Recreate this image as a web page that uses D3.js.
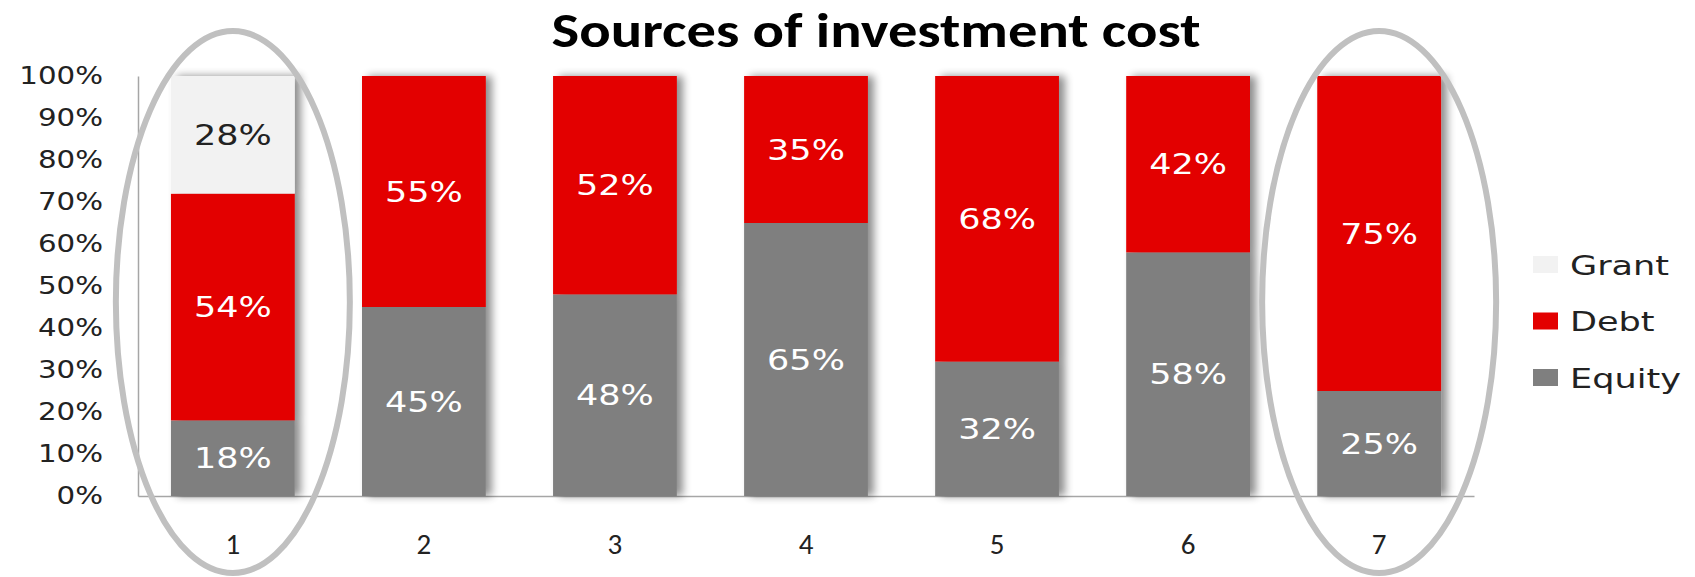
<!DOCTYPE html>
<html>
<head>
<meta charset="utf-8">
<script src="https://cdn.jsdelivr.net/npm/d3@7"></script>
<style>
  body { margin: 0; background: #fff; }
  svg { display: block; }
</style>
</head>
<body>
<svg id="chart" width="1695" height="577"></svg>
<script>
// data
var projects = ["1", "2", "3", "4", "5", "6", "7"];
var equity = [18, 45, 48, 65, 32, 58, 25];
var debt   = [54, 55, 52, 35, 68, 42, 75];
var grant  = [28, 0, 0, 0, 0, 0, 0];
var seriesNames = ["Equity", "Debt", "Grant"];
var yTicks = [0, 10, 20, 30, 40, 50, 60, 70, 80, 90, 100];
var circled = ["1", "7"];

var svg = d3.select("#chart"),
    margin = {top: 76, left: 138, right: 221, bottom: 81},
    width = +svg.attr("width") - margin.left - margin.right,
    height = +svg.attr("height") - margin.top - margin.bottom;

var colours = {Equity: "#7f7f7f", Debt: "#e30000", Grant: "#f2f2f2"};
var labelColours = {Equity: "#fff", Debt: "#fff", Grant: "#222"};
var labelFont = "'DejaVu Sans', Verdana, sans-serif";

// soft shadow to the right of each bar
var defs = svg.append("defs");
var f = defs.append("filter").attr("id", "shadow")
    .attr("x", "-10%").attr("y", "-5%").attr("width", "140%").attr("height", "110%");
f.append("feGaussianBlur").attr("in", "SourceAlpha").attr("stdDeviation", 4).attr("result", "b");
f.append("feOffset").attr("in", "b").attr("dx", 6).attr("dy", 0).attr("result", "o");
f.append("feComponentTransfer").attr("in", "o").attr("result", "s")
  .append("feFuncA").attr("type", "linear").attr("slope", 0.45);
var m = f.append("feMerge");
m.append("feMergeNode").attr("in", "s");
m.append("feMergeNode").attr("in", "SourceGraphic");

var g = svg.append("g").attr("transform", "translate(" + margin.left + "," + margin.top + ")");

var x = d3.scaleBand().domain(projects).range([0, width]).paddingInner(0.352).paddingOuter(0.1725);
var y = d3.scaleLinear().domain([0, 100]).range([height, 0]);

var rows = projects.map(function(p, i) {
  return {project: p, Equity: equity[i], Debt: debt[i], Grant: grant[i]};
});
var stacked = d3.stack().keys(seriesNames)(rows);

// title
svg.append("text")
    .attr("x", 876).attr("y", 47)
    .attr("text-anchor", "middle")
    .style("font-family", "Carlito, 'Open Sans', sans-serif")
    .style("font-weight", "bold")
    .style("font-size", "48px")
    .attr("textLength", 649)
    .attr("lengthAdjust", "spacingAndGlyphs")
    .text("Sources of investment cost");

// y axis
var yAxis = g.append("g")
    .call(d3.axisLeft(y).tickValues(yTicks).tickSize(0)
      .tickFormat(function(d) { return d + "%"; }));
yAxis.select(".domain").attr("stroke", "#a6a6a6").attr("stroke-width", 1.5);
yAxis.selectAll(".tick text")
    .style("font-family", labelFont)
    .style("font-size", "24px")
    .attr("fill", "#222")
    .attr("transform", "scale(1.22,1)")
    .attr("x", -35 / 1.22);

// x axis
var xAxis = g.append("g")
    .attr("transform", "translate(0," + height + ")")
    .call(d3.axisBottom(x).tickSize(0).tickPadding(37));
xAxis.select(".domain").attr("stroke", "#a6a6a6").attr("stroke-width", 1.5);
xAxis.selectAll(".tick text")
    .style("font-family", "Carlito, 'Liberation Sans', sans-serif")
    .style("font-size", "29px")
    .attr("fill", "#222");

// bars
var bars = g.append("g").attr("filter", "url(#shadow)");
bars.selectAll("g.series")
    .data(stacked)
  .enter().append("g")
    .attr("class", "series")
    .attr("fill", function(d) { return colours[d.key]; })
  .selectAll("rect")
    .data(function(d) { return d; })
  .enter().append("rect")
    .attr("x", function(d) { return x(d.data.project); })
    .attr("width", x.bandwidth())
    .attr("y", function(d) { return y(d[1]); })
    .attr("height", function(d) { return y(d[0]) - y(d[1]); });

// value labels
stacked.forEach(function(s) {
  g.append("g").selectAll("text")
      .data(s.filter(function(d) { return d[1] - d[0] > 0; }))
    .enter().append("text")
      .attr("transform", function(d) {
        return "translate(" + (x(d.data.project) + x.bandwidth() / 2) + "," + y((d[0] + d[1]) / 2) + ") scale(1.25,1)";
      })
      .attr("text-anchor", "middle")
      .attr("dy", "0.36em")
      .style("font-family", labelFont)
      .style("font-size", "28px")
      .attr("fill", labelColours[s.key])
      .text(function(d) { return (d[1] - d[0]) + "%"; });
});

// circled projects
g.selectAll("ellipse")
    .data(circled)
  .enter().append("ellipse")
    .attr("cx", function(d) { return x(d) + x.bandwidth() / 2; })
    .attr("cy", 302 - margin.top)
    .attr("rx", 117)
    .attr("ry", 271)
    .attr("fill", "none")
    .attr("stroke", "#c0c0c0")
    .attr("stroke-width", 6);

// legend
var legend = svg.append("g").attr("transform", "translate(1533,256)");
var li = legend.selectAll("g")
    .data(seriesNames.slice().reverse())
  .enter().append("g")
    .attr("transform", function(d, i) { return "translate(0," + i * 56.5 + ")"; });
li.append("rect")
    .attr("width", 25).attr("height", 17)
    .attr("fill", function(d) { return colours[d]; });
li.append("text")
    .attr("transform", "translate(37,9) scale(1.3,1)")
    .attr("dy", "0.36em")
    .style("font-family", labelFont)
    .style("font-size", "27px")
    .attr("fill", "#222")
    .text(function(d) { return d; });
</script>
</body>
</html>
